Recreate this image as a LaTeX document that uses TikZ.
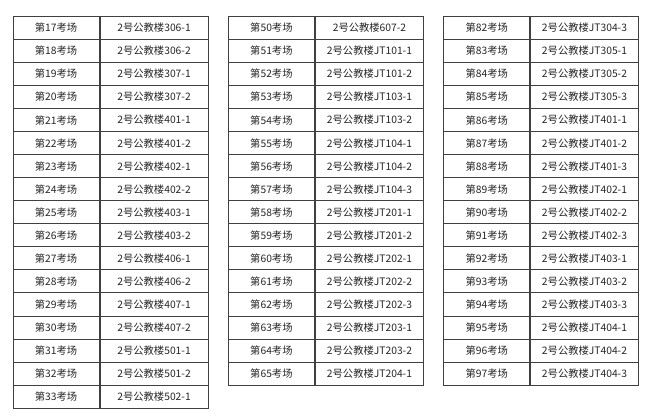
\documentclass[tikz,border=0pt]{standalone}
\usepackage{fontspec}
\setmainfont{Noto Sans CJK SC}
\begin{document}
\begin{tikzpicture}[x=1pt,y=-1pt,
  cell/.style={draw=black!75,line width=0.8pt,rectangle,inner sep=0pt,minimum height=23.04pt,anchor=north west,font=\fontsize{10.3}{12}\selectfont,text=black!85},
  numcell/.style={cell,minimum width=86pt},
  roomcell/.style={cell,minimum width=108.3pt}]
\useasboundingbox[fill=white] (0,0) rectangle (649,418);
% table 1
\foreach \n/\r [count=\i from 0] in {17/306-1,18/306-2,19/307-1,20/307-2,21/401-1,22/401-2,23/402-1,24/402-2,25/403-1,26/403-2,27/406-1,28/406-2,29/407-1,30/407-2,31/501-1,32/501-2,33/502-1}{
  \node[numcell] (a\i) at (12.7,16+\i*23.04) {第\n 考场};
  \node[roomcell] (b\i) at (a\i.north east) {2号公教楼\r};
}
% table 2
\foreach \n/\r [count=\i from 0] in {50/607-2,51/JT101-1,52/JT101-2,53/JT103-1,54/JT103-2,55/JT104-1,56/JT104-2,57/JT104-3,58/JT201-1,59/JT201-2,60/JT202-1,61/JT202-2,62/JT202-3,63/JT203-1,64/JT203-2,65/JT204-1}{
  \node[numcell,minimum width=86.6pt] (c\i) at (227.7,16+\i*23.04) {第\n 考场};
  \node[roomcell,minimum width=108pt] (d\i) at (c\i.north east) {2号公教楼\r};
}
% table 3
\foreach \n/\r [count=\i from 0] in {82/JT304-3,83/JT305-1,84/JT305-2,85/JT305-3,86/JT401-1,87/JT401-2,88/JT401-3,89/JT402-1,90/JT402-2,91/JT402-3,92/JT403-1,93/JT403-2,94/JT403-3,95/JT404-1,96/JT404-2,97/JT404-3}{
  \node[numcell] (e\i) at (443.3,16+\i*23.04) {第\n 考场};
  \node[roomcell,minimum width=108pt] (f\i) at (e\i.north east) {2号公教楼\r};
}
\end{tikzpicture}
\end{document}
